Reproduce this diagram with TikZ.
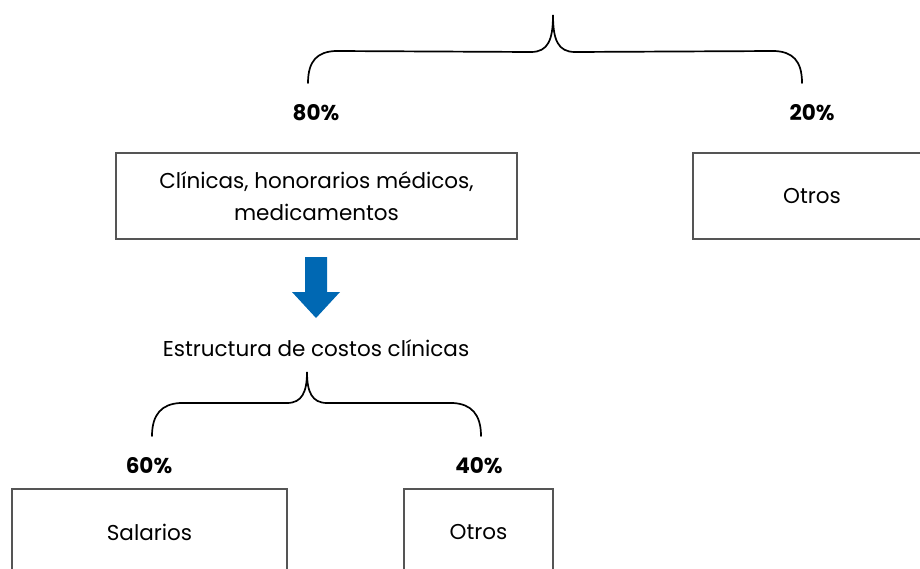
\documentclass[tikz,border=0pt]{standalone}
\usepackage{fontspec}
\setmainfont{Poppins}
\usepackage{xcolor}
\definecolor{arrowblue}{HTML}{0068B3}
\definecolor{boxgray}{HTML}{555555}
\usetikzlibrary{positioning, calc}

\begin{document}
\begin{tikzpicture}[x=1pt, y=-1pt,
            box/.style={draw=boxgray, line width=1.6pt, minimum height=86pt, align=center, font=\fontsize{21.5}{32}\selectfont},
            pct/.style={font=\fontsize{21.5}{26}\selectfont\bfseries},
            label/.style={font=\fontsize{21.5}{26}\selectfont},
            brace/.style={line width=1.7pt, line cap=round}
        ]
        \clip (0,0) rectangle (920,569);

        % Nodes (manual layout to match figure)
        \node[box, minimum width=401pt] (clin) at (316.5,196) {Clínicas, honorarios médicos,\\medicamentos};
        \node[box, minimum width=238pt] (otros1) at (812,196) {Otros};
        \node[pct] (p80) at (316,113) {80\%};
        \node[pct] (p20) at (812,113) {20\%};

        \node[label] (estr) at (316,348) {Estructura de costos clínicas};
        \node[pct] (p60) at (149,466) {60\%};
        \node[pct] (p40) at (479,466) {40\%};
        \node[box, minimum width=275pt] (sal) at (149.5,532) {Salarios};
        \node[box, minimum width=149pt] (otros2) at (478.5,532) {Otros};

        % Top brace
        \coordinate (tl) at (308,83);
        \coordinate (tt) at (553,15);
        \coordinate (tr) at (802,83);
        \draw[brace] (tl) .. controls (308,60) and (318,52) .. (335,51)
            -- (531,52) .. controls (548,52) and (553,40) .. (tt)
            .. controls (553,40) and (558,52) .. (575,52)
            -- (775,51) .. controls (792,52) and (802,60) .. (tr);

        % Arrow
        \fill[arrowblue] (305,257) -- (327,257) -- (327,292) -- (340,292)
            -- (316,318) -- (292,292) -- (305,292) -- cycle;

        % Bottom brace
        \coordinate (bl) at (152,436);
        \coordinate (bt) at (307,372);
        \coordinate (br) at (481,436);
        \draw[brace] (bl) .. controls (152,414) and (162,404) .. (180,403)
            -- (287,403) .. controls (302,403) and (307,392) .. (bt)
            .. controls (307,392) and (312,403) .. (327,403)
            -- (453,403) .. controls (471,404) and (481,414) .. (br);

    \end{tikzpicture}
\end{document}
